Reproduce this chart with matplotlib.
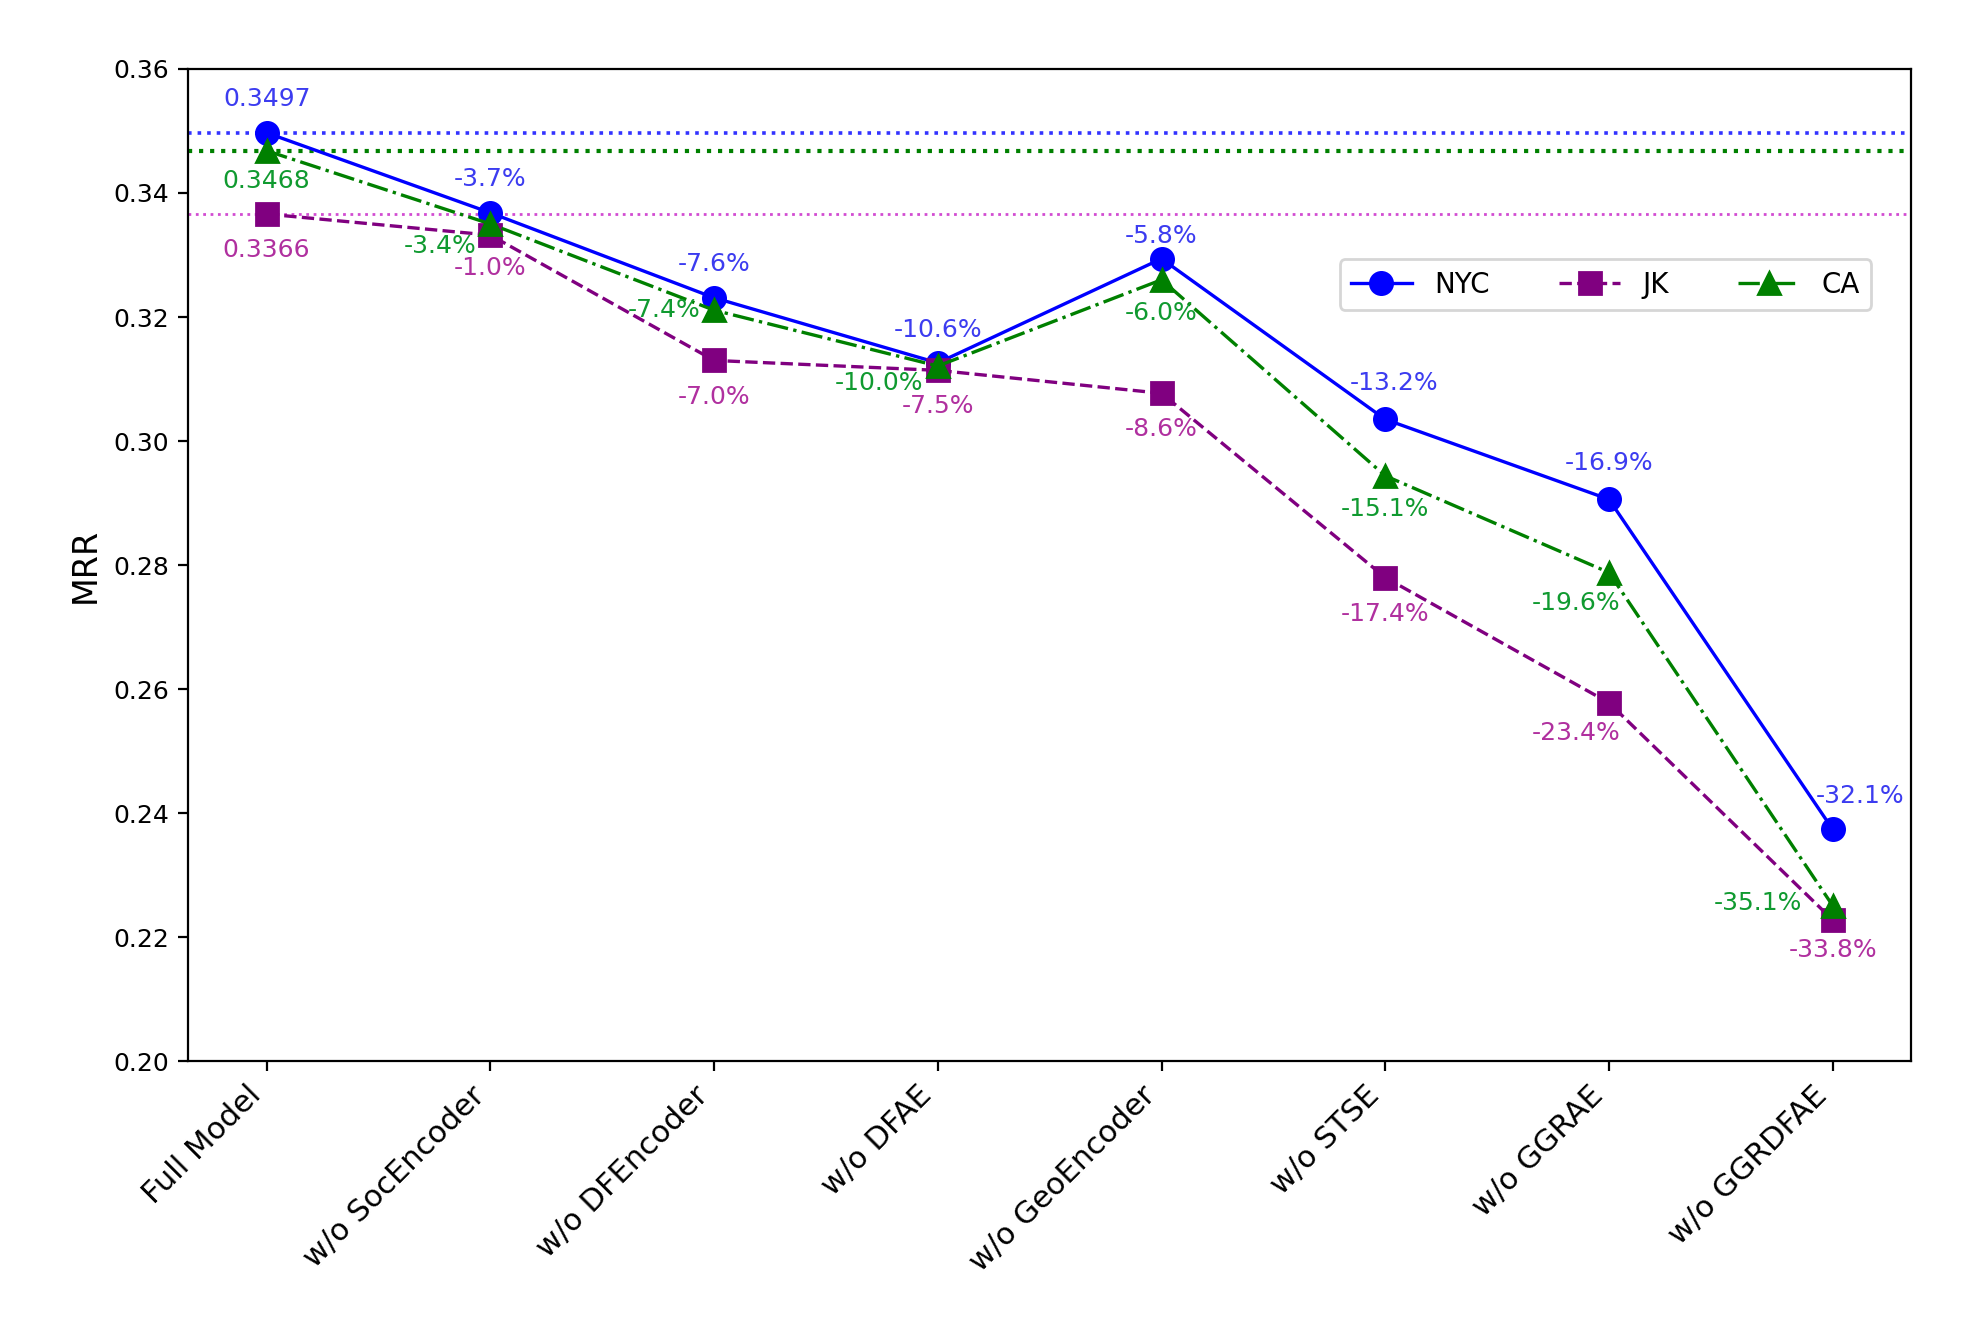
import numpy as np
import matplotlib.pyplot as plt

# ablation variants
variants = ['Full Model', 'w/o SocEncoder', 'w/o DFEncoder', 'w/o DFAE',
            'w/o GeoEncoder', 'w/o STSE', 'w/o GGRAE', 'w/o GGRDFAE']

# MRR values
nyc = [0.3497, 0.3368, 0.3231, 0.3126, 0.3294, 0.3035, 0.2906, 0.2374]
jk = [0.3366, 0.3332, 0.3130, 0.3114, 0.3077, 0.2780, 0.2578, 0.2228]
ca = [0.3468, 0.3350, 0.3211, 0.3121, 0.3260, 0.2944, 0.2788, 0.2251]

# point labels
nyc_labels = ['0.3497', '-3.7%', '-7.6%', '-10.6%', '-5.8%', '-13.2%', '-16.9%', '-32.1%']
jk_labels = ['0.3366', '-1.0%', '-7.0%', '-7.5%', '-8.6%', '-17.4%', '-23.4%', '-33.8%']
ca_labels = ['0.3468', '-3.4%', '-7.4%', '-10.0%', '-6.0%', '-15.1%', '-19.6%', '-35.1%']

x = np.arange(len(variants))

fig, ax = plt.subplots(figsize=(9.81, 6.625), dpi=200)
fig.subplots_adjust(left=0.096, right=0.974, top=0.948, bottom=0.199)

# reference lines of full model
ax.axhline(nyc[0], color='blue', linestyle=':', linewidth=1.3, alpha=0.8)
ax.axhline(ca[0], color='green', linestyle=':', linewidth=1.5)
ax.axhline(jk[0], color='m', linestyle=':', linewidth=1.0, alpha=0.7)

ax.plot(x, nyc, color='blue', linestyle='-', marker='o', markersize=8, linewidth=1.2, label='NYC')
ax.plot(x, jk, color='purple', linestyle='--', marker='s', markersize=8, linewidth=1.2, label='JK')
ax.plot(x, ca, color='green', linestyle='-.', marker='^', markersize=8, linewidth=1.2, label='CA')

# label offsets in points
nyc_off = [(0, 12), (0, 12), (0, 12), (0, 12), (0, 8), (3, 13), (0, 13), (10, 12)]
jk_off = [(0, -13), (0, -12), (0, -13), (0, -13), (0, -13), (0, -13), (-12, -11), (0, -11)]
ca_off = [(0, -11), (-18, -8), (-18, 0), (-21, -6), (0, -12), (0, -12), (-12, -11), (-27, 1)]

def annotate(vals, labels, offs, color):
    for xi, v, t, o in zip(x, vals, labels, offs):
        ax.annotate(t, (xi, v), xytext=o, textcoords='offset points',
                    ha='center', va='center', fontsize=9, color=color)

annotate(nyc, nyc_labels, nyc_off, '#3c3cf0')
annotate(jk, jk_labels, jk_off, '#b0309f')
annotate(ca, ca_labels, ca_off, '#109a30')

ax.set_ylim(0.20, 0.36)
ax.set_yticks(np.arange(0.20, 0.361, 0.02))
ax.yaxis.set_major_formatter(plt.FormatStrFormatter('%.2f'))
ax.tick_params(axis='y', labelsize=9)
ax.set_xticks(x)
ax.set_xticklabels(variants, rotation=45, ha='right', fontsize=11)
ax.set_xlim(-0.35, 7.35)
ax.set_ylabel('MRR', fontsize=12)

ax.legend(loc='upper right', bbox_to_anchor=(0.985, 0.822), ncol=3, fontsize=10,
          handlelength=2.2, columnspacing=2.5)

plt.savefig('out.png')
